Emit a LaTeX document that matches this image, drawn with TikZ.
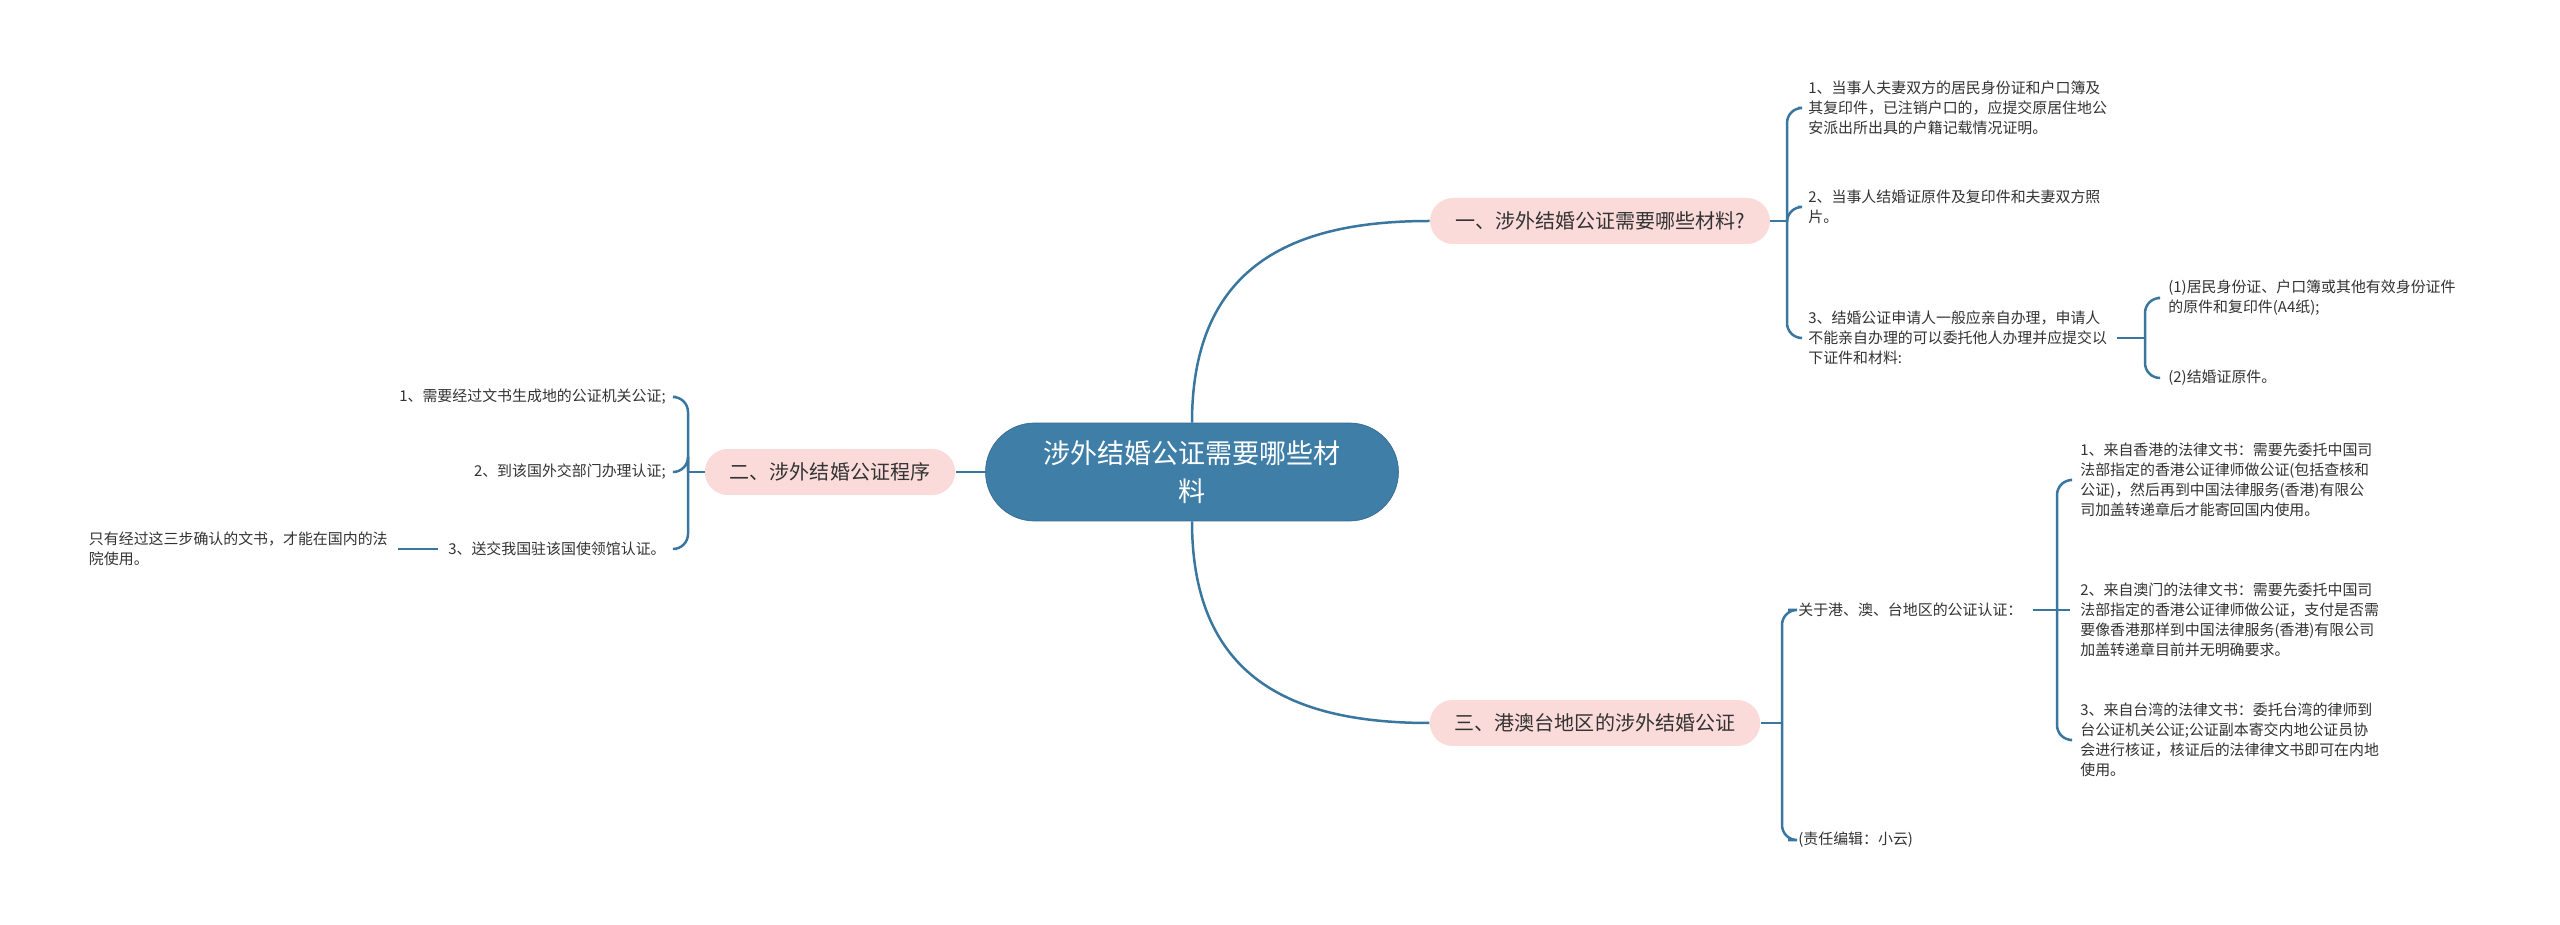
\documentclass[tikz,border=0pt]{standalone}
\usepackage{fontspec}
\setmainfont{Noto Sans CJK SC}
\usetikzlibrary{positioning}
\definecolor{linkblue}{HTML}{3A77A0}
\definecolor{rootblue}{HTML}{3F7EA7}
\definecolor{topicpink}{HTML}{FADBDA}
\definecolor{leaftext}{HTML}{333333}

\begin{document}
\begin{tikzpicture}[x=0.02cm, y=-0.02cm,
  root/.style={fill=rootblue, draw=rootblue!85!black, line width=0.4pt,
    rounded corners=0.98cm, minimum width=8.26cm, minimum height=1.96cm,
    text=white, align=center, font=\fontsize{15.4}{21.6}\selectfont},
  topic/.style={fill=topicpink, rounded corners=0.46cm, minimum height=0.92cm,
    inner xsep=0.5cm, text=leaftext, font=\fontsize{11.4}{14}\selectfont},
  leaf/.style={inner xsep=0.2cm, inner ysep=0.1cm, align=left, text=leaftext,
    font=\fontsize{8.5}{11.4}\selectfont},
  link/.style={draw=linkblue, line width=0.05cm, rounded corners=0.3cm}]
\fill[white] (0,0) rectangle (2560,925);
\useasboundingbox (0,0) rectangle (2560,925);

% centre and main topics
\node[root] (root) at (1192,472) {涉外结婚公证需要哪些材\\料};
\node[topic] (t1) at (1600,221) {一、涉外结婚公证需要哪些材料?};
\node[topic] (t2) at (830,472) {二、涉外结婚公证程序};
\node[topic] (t3) at (1595,723) {三、港澳台地区的涉外结婚公证};

% branch points
\coordinate (j1) at (1787,221);
\coordinate (j1c) at (2145,338);
\coordinate (j2) at (688,472);
\coordinate (j3) at (1782,723);
\coordinate (j3a) at (2057,610);

% topic one
\node[leaf, anchor=west] (a1) at (1798,108) {1、当事人夫妻双方的居民身份证和户口簿及\\其复印件，已注销户口的，应提交原居住地公\\安派出所出具的户籍记载情况证明。};
\node[leaf, anchor=west] (a2) at (1798,207) {2、当事人结婚证原件及复印件和夫妻双方照\\片。};
\node[leaf, anchor=west] (a3) at (1798,338) {3、结婚公证申请人一般应亲自办理，申请人\\不能亲自办理的可以委托他人办理并应提交以\\下证件和材料:};
\node[leaf, anchor=west] (a31) at (2158,298) {(1)居民身份证、户口簿或其他有效身份证件\\的原件和复印件(A4纸);};
\node[leaf, anchor=west] (a32) at (2158,378) {(2)结婚证原件。};

% topic two
\node[leaf, anchor=east, align=right] (b1) at (676,397) {1、需要经过文书生成地的公证机关公证;};
\node[leaf, anchor=east, align=right] (b2) at (676,472) {2、到该国外交部门办理认证;};
\node[leaf, anchor=east, align=right] (b3) at (676,549) {3、送交我国驻该国使领馆认证。};
\node[leaf, anchor=east] (b31) at (398,549) {只有经过这三步确认的文书，才能在国内的法\\院使用。};

% topic three
\node[leaf, anchor=west] (c1) at (1788,610) {关于港、澳、台地区的公证认证：};
\node[leaf, anchor=west] (c2) at (1788,840) {(责任编辑：小云)};
\node[leaf, anchor=west] (c11) at (2070,480) {1、来自香港的法律文书：需要先委托中国司\\法部指定的香港公证律师做公证(包括查核和\\公证)，然后再到中国法律服务(香港)有限公\\司加盖转递章后才能寄回国内使用。};
\node[leaf, anchor=west] (c12) at (2070,620) {2、来自澳门的法律文书：需要先委托中国司\\法部指定的香港公证律师做公证，支付是否需\\要像香港那样到中国法律服务(香港)有限公司\\加盖转递章目前并无明确要求。};
\node[leaf, anchor=west] (c13) at (2070,740) {3、来自台湾的法律文书：委托台湾的律师到\\台公证机关公证;公证副本寄交内地公证员协\\会进行核证，核证后的法律律文书即可在内地\\使用。};

% connectors
\draw[link] (root.north) .. controls (1192,260) and (1300,221) .. (t1.west);
\draw[link] (root.south) .. controls (1192,684) and (1300,723) .. (t3.west);
\draw[link] (root.west) -- (t2.east);
\draw[link] (t1.east) -- (j1);
\foreach \n in {a1,a2,a3} \draw[link] (j1) |- (\n.west);
\draw[link] (a3.east) -- (j1c);
\foreach \n in {a31,a32} \draw[link] (j1c) |- (\n.west);
\draw[link] (t2.west) -- (j2);
\foreach \n in {b1,b2,b3} \draw[link] (j2) |- (\n.east);
\draw[link] (b31) -- (b3);
\draw[link] (t3.east) -- (j3);
\foreach \n in {c1,c2} \draw[link] (j3) |- (\n.west);
\draw[link] (c1.east) -- (j3a);
\draw[link] (j3a) |- (c11.west);
\draw[link] (j3a) -- (j3a -| c12.west);
\draw[link] (j3a) |- (c13.west);
\end{tikzpicture}
\end{document}
